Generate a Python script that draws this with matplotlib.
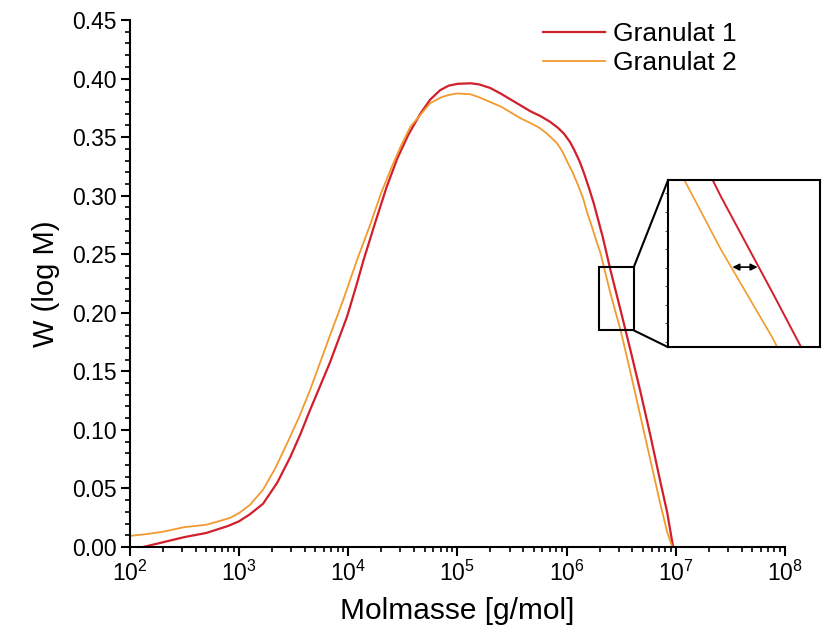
import numpy as np
import matplotlib
matplotlib.use("Agg")
import matplotlib.pyplot as plt
from matplotlib.ticker import LogLocator, MultipleLocator, FormatStrFormatter, NullFormatter, NullLocator
from matplotlib.patches import Rectangle, ConnectionPatch

plt.rcParams['font.family'] = ['Liberation Sans', 'DejaVu Sans']
plt.rcParams['mathtext.fontset'] = 'custom'
plt.rcParams['mathtext.rm'] = 'Liberation Sans'
plt.rcParams['mathtext.it'] = 'Liberation Sans'

# ---- data (log10 of molar mass, W(log M)) ----
g1_logM = [2.12, 2.3, 2.5, 2.7, 2.9, 3.0, 3.1, 3.22, 3.35, 3.47, 3.56, 3.65, 3.74, 3.83,
           3.91, 3.99, 4.07, 4.14, 4.25, 4.35, 4.45, 4.55, 4.66, 4.75, 4.84, 4.92, 5.0,
           5.12, 5.2, 5.30, 5.40, 5.49, 5.58, 5.67, 5.76, 5.85, 5.92, 5.975, 6.03, 6.07,
           6.12, 6.16, 6.21, 6.25, 6.29, 6.33, 6.40, 6.50, 6.59, 6.68, 6.77, 6.86, 6.92,
           6.975]
g1_W = [0.000, 0.004, 0.0085, 0.012, 0.018, 0.022, 0.028, 0.037, 0.055, 0.077, 0.096,
        0.117, 0.137, 0.157, 0.177, 0.197, 0.222, 0.245, 0.278, 0.307, 0.332, 0.352,
        0.370, 0.382, 0.390, 0.394, 0.3955, 0.396, 0.395, 0.392, 0.387, 0.382, 0.377,
        0.372, 0.368, 0.363, 0.358, 0.353, 0.346, 0.339, 0.329, 0.319, 0.305, 0.293,
        0.279, 0.265, 0.237, 0.200, 0.166, 0.131, 0.094, 0.055, 0.030, 0.000]

g2_logM = [2.0, 2.15, 2.3, 2.5, 2.7, 2.85, 2.92, 3.0, 3.1, 3.22, 3.33, 3.44, 3.55, 3.65,
           3.74, 3.83, 3.95, 4.08, 4.2, 4.3, 4.4, 4.48, 4.57, 4.66, 4.75, 4.85, 4.92, 5.0,
           5.12, 5.2, 5.30, 5.40, 5.49, 5.58, 5.67, 5.75, 5.82, 5.91, 5.96, 6.0, 6.05,
           6.10, 6.15, 6.19, 6.23, 6.27, 6.31, 6.40, 6.50, 6.59, 6.68, 6.77, 6.86, 6.92,
           6.968]
g2_W = [0.0095, 0.011, 0.013, 0.017, 0.019, 0.023, 0.025, 0.029, 0.036, 0.049, 0.067,
        0.0886, 0.111, 0.134, 0.157, 0.180, 0.210, 0.245, 0.275, 0.302, 0.325, 0.342,
        0.359, 0.369, 0.379, 0.384, 0.386, 0.3873, 0.3866, 0.384, 0.380, 0.376, 0.371,
        0.366, 0.362, 0.358, 0.353, 0.345, 0.338, 0.330, 0.321, 0.310, 0.298, 0.285,
        0.274, 0.262, 0.251, 0.217, 0.183, 0.147, 0.110, 0.073, 0.036, 0.013, 0.000]

labels = ["Granulat 1", "Granulat 2"]
colors = ["#d21f2c", "#f29a2e"]

# zoom window on main axes (x in g/mol, y in W)
zoom_x = (1.97e6, 4.12e6)
zoom_y = (0.185, 0.239)
# range shown in the inset
inset_x = (10 ** 6.300, 10 ** 6.589)
inset_y = (0.180, 0.243)
w_arrow = 0.2102

x1 = 10 ** np.array(g1_logM)
x2 = 10 ** np.array(g2_logM)

fig = plt.figure(figsize=(8.22, 6.30), dpi=100)
ax = fig.add_axes([0.158, 0.1317, 0.797, 0.8365])

ax.plot(x1, g1_W, color=colors[0], lw=1.6, label=labels[0])
ax.plot(x2, g2_W, color=colors[1], lw=1.3, label=labels[1])

ax.set_xscale('log')
ax.set_xlim(1e2, 1e8)
ax.set_ylim(0, 0.45)
ax.xaxis.set_major_locator(LogLocator(base=10, numticks=20))
ax.xaxis.set_minor_locator(LogLocator(base=10, subs=np.arange(2, 10), numticks=100))
ax.xaxis.set_minor_formatter(NullFormatter())
ax.yaxis.set_major_locator(MultipleLocator(0.05))
ax.yaxis.set_minor_locator(MultipleLocator(0.01))
ax.yaxis.set_major_formatter(FormatStrFormatter('%.2f'))

for s in ['top', 'right']:
    ax.spines[s].set_visible(False)
for s in ['left', 'bottom']:
    ax.spines[s].set_linewidth(1.5)
ax.tick_params(which='major', direction='out', length=6.5, width=1.5, labelsize=16.5, pad=3)
ax.tick_params(which='minor', direction='out', length=3.5, width=1.2)

ax.set_xlabel('Molmasse [g/mol]', fontsize=21.5, labelpad=8)
ax.set_ylabel('W (log M)', fontsize=21, labelpad=9)

leg = ax.legend(loc='upper left', bbox_to_anchor=(0.6606, 0.965), bbox_transform=fig.transFigure,
                frameon=False, fontsize=19, handlelength=2.35, handletextpad=0.3,
                labelspacing=0.2, borderaxespad=0, borderpad=0)

# zoom rectangle
rect = Rectangle((zoom_x[0], zoom_y[0]), zoom_x[1] - zoom_x[0], zoom_y[1] - zoom_y[0],
                 fill=False, ec='black', lw=1.5, zorder=5)
ax.add_patch(rect)

# inset
axin = fig.add_axes([0.8127, 0.449, 0.185, 0.265])
axin.plot(x1, g1_W, color=colors[0], lw=1.4)
axin.plot(x2, g2_W, color=colors[1], lw=1.2)
axin.set_xscale('log')
axin.set_xlim(*inset_x)
axin.set_ylim(*inset_y)
axin.xaxis.set_major_locator(NullLocator())
axin.xaxis.set_minor_locator(NullLocator())
axin.yaxis.set_major_locator(MultipleLocator(0.007))
axin.yaxis.set_major_formatter(NullFormatter())
axin.tick_params(axis='y', direction='out', length=2.5, width=0.8, colors='#555555')
for s in axin.spines.values():
    s.set_linewidth(1.5)

# double arrow between the curves at a chosen W level
g1_desc = np.array(g1_W)[np.array(g1_logM) > 6.2]
g1_desc_x = np.array(g1_logM)[np.array(g1_logM) > 6.2]
g2_desc = np.array(g2_W)[np.array(g2_logM) > 6.2]
g2_desc_x = np.array(g2_logM)[np.array(g2_logM) > 6.2]
xa_or = 10 ** np.interp(w_arrow, g2_desc[::-1], g2_desc_x[::-1])
xa_red = 10 ** np.interp(w_arrow, g1_desc[::-1], g1_desc_x[::-1])
axin.annotate('', xy=(xa_or * 1.005, w_arrow), xytext=(xa_red * 0.995, w_arrow),
              arrowprops=dict(arrowstyle='<|-|>', color='black', lw=1.2,
                              mutation_scale=10, shrinkA=0, shrinkB=0))

# connector lines
for (ya, yb) in [(zoom_y[1], inset_y[1]), (zoom_y[0], inset_y[0])]:
    con = ConnectionPatch(xyA=(zoom_x[1], ya), coordsA=ax.transData,
                          xyB=(inset_x[0], yb), coordsB=axin.transData,
                          color='black', lw=1.5)
    fig.add_artist(con)

fig.savefig('out.png', dpi=100)
